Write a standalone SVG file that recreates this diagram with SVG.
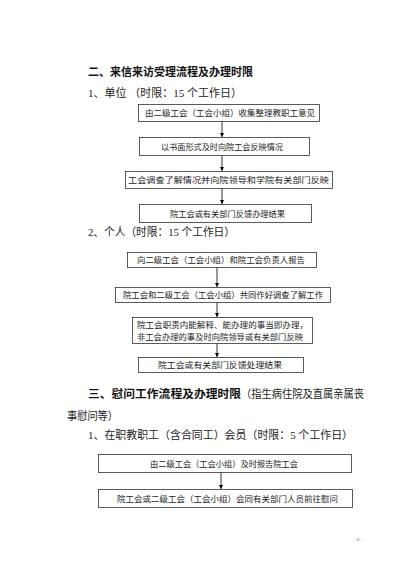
<svg xmlns="http://www.w3.org/2000/svg" width="414" height="585" viewBox="0 0 414 585">
<defs>
<marker id="ah" viewBox="0 0 6 6" refX="6" refY="3" markerWidth="4" markerHeight="4" orient="auto" markerUnits="userSpaceOnUse">
<path d="M0,0 L6,3 L0,6 z" fill="#000"/>
</marker>
<style>
.box{fill:#fff;stroke:#333;stroke-width:0.8}
.bt{font-family:"Liberation Serif","Noto Sans CJK SC",serif;font-size:8.5px;fill:#222;text-anchor:start}
.h{font-family:"Liberation Sans","Noto Sans CJK SC",sans-serif;font-size:11px;font-weight:bold;fill:#111}
.s{font-family:"Liberation Serif","Noto Sans CJK SC",serif;font-size:11px;fill:#222}
.c{stroke:#000;stroke-width:0.8;fill:none;marker-end:url(#ah)}
</style>
</defs>
<rect width="414" height="585" fill="#fff"/>

<text class="h" x="88" y="76" textLength="165" lengthAdjust="spacingAndGlyphs">二、来信来访受理流程及办理时限</text>
<text class="s" x="88" y="97" textLength="154" lengthAdjust="spacingAndGlyphs">1、单位 （时限：15 个工作日）</text>

<g id="n1"><rect class="box" x="138.5" y="104.5" width="181" height="17"/><text class="bt" x="145" y="116" textLength="170" lengthAdjust="spacingAndGlyphs">由二级工会（工会小组）收集整理教职工意见</text></g>
<g id="n2"><rect class="box" x="139.5" y="137.5" width="170" height="18"/><text class="bt" x="161" y="149.5" textLength="122" lengthAdjust="spacingAndGlyphs">以书面形式及时向院工会反映情况</text></g>
<g id="n3"><rect class="box" x="125.5" y="171.5" width="207" height="17"/><text class="bt" x="128" y="183" textLength="201" lengthAdjust="spacingAndGlyphs">工会调查了解情况并向院领导和学院有关部门反映</text></g>
<g id="n4"><rect class="box" x="139.5" y="204.5" width="172" height="18"/><text class="bt" x="170" y="216.5" textLength="115" lengthAdjust="spacingAndGlyphs">院工会或有关部门反馈办理结果</text></g>

<text class="s" x="88" y="236" textLength="147" lengthAdjust="spacingAndGlyphs">2、个人（时限：15 个工作日）</text>

<g id="n5"><rect class="box" x="127.5" y="252.5" width="189" height="15"/><text class="bt" x="137" y="263" textLength="168" lengthAdjust="spacingAndGlyphs">向二级工会（工会小组）和院工会负责人报告</text></g>
<g id="n6"><rect class="box" x="115.5" y="287.5" width="215" height="15"/><text class="bt" x="123" y="298" textLength="200" lengthAdjust="spacingAndGlyphs">院工会和二级工会（工会小组）共同作好调查了解工作</text></g>
<g id="n7"><rect class="box" x="132.5" y="317.5" width="180" height="26"/><text class="bt" x="137" y="328" textLength="171" lengthAdjust="spacingAndGlyphs">院工会职责内能解释、能办理的事当即办理，</text><text class="bt" x="137" y="340" textLength="166" lengthAdjust="spacingAndGlyphs">非工会办理的事及时向院领导或有关部门反映</text></g>
<g id="n8"><rect class="box" x="138.5" y="357.5" width="165" height="15"/><text class="bt" x="158" y="368" textLength="124" lengthAdjust="spacingAndGlyphs">院工会或有关部门反馈处理结果</text></g>

<text class="h" x="88" y="398" textLength="153" lengthAdjust="spacingAndGlyphs">三、慰问工作流程及办理时限</text>
<text class="s" x="241" y="398" textLength="123" lengthAdjust="spacingAndGlyphs">（指生病住院及直属亲属丧</text>
<text class="s" x="67" y="420" textLength="51" lengthAdjust="spacingAndGlyphs">事慰问等）</text>
<text class="s" x="88" y="439" textLength="265" lengthAdjust="spacingAndGlyphs">1、在职教职工（含合同工）会员（时限：5 个工作日）</text>

<g id="n9"><rect class="box" x="98.5" y="454.5" width="253" height="18"/><text class="bt" x="150" y="466.5" textLength="148" lengthAdjust="spacingAndGlyphs">由二级工会（工会小组）及时报告院工会</text></g>
<g id="n10"><rect class="box" x="98.5" y="489.5" width="254" height="18"/><text class="bt" x="117" y="501.5" textLength="221" lengthAdjust="spacingAndGlyphs">院工会或二级工会（工会小组）会同有关部门人员前往慰问</text></g>

<g id="connectors">
<line class="c" x1="222" y1="121.5" x2="222" y2="137"/>
<line class="c" x1="222" y1="155.5" x2="222" y2="171"/>
<line class="c" x1="222" y1="188.5" x2="222" y2="204"/>
<line class="c" x1="217" y1="267.5" x2="217" y2="287"/>
<line class="c" x1="217" y1="302.5" x2="217" y2="317"/>
<line class="c" x1="217" y1="343.5" x2="217" y2="357"/>
<line class="c" x1="221" y1="472.5" x2="221" y2="489"/>
</g>

<text x="358" y="541" font-family="Liberation Serif,serif" font-size="5" fill="#444" text-anchor="middle">-2-</text>
</svg>
